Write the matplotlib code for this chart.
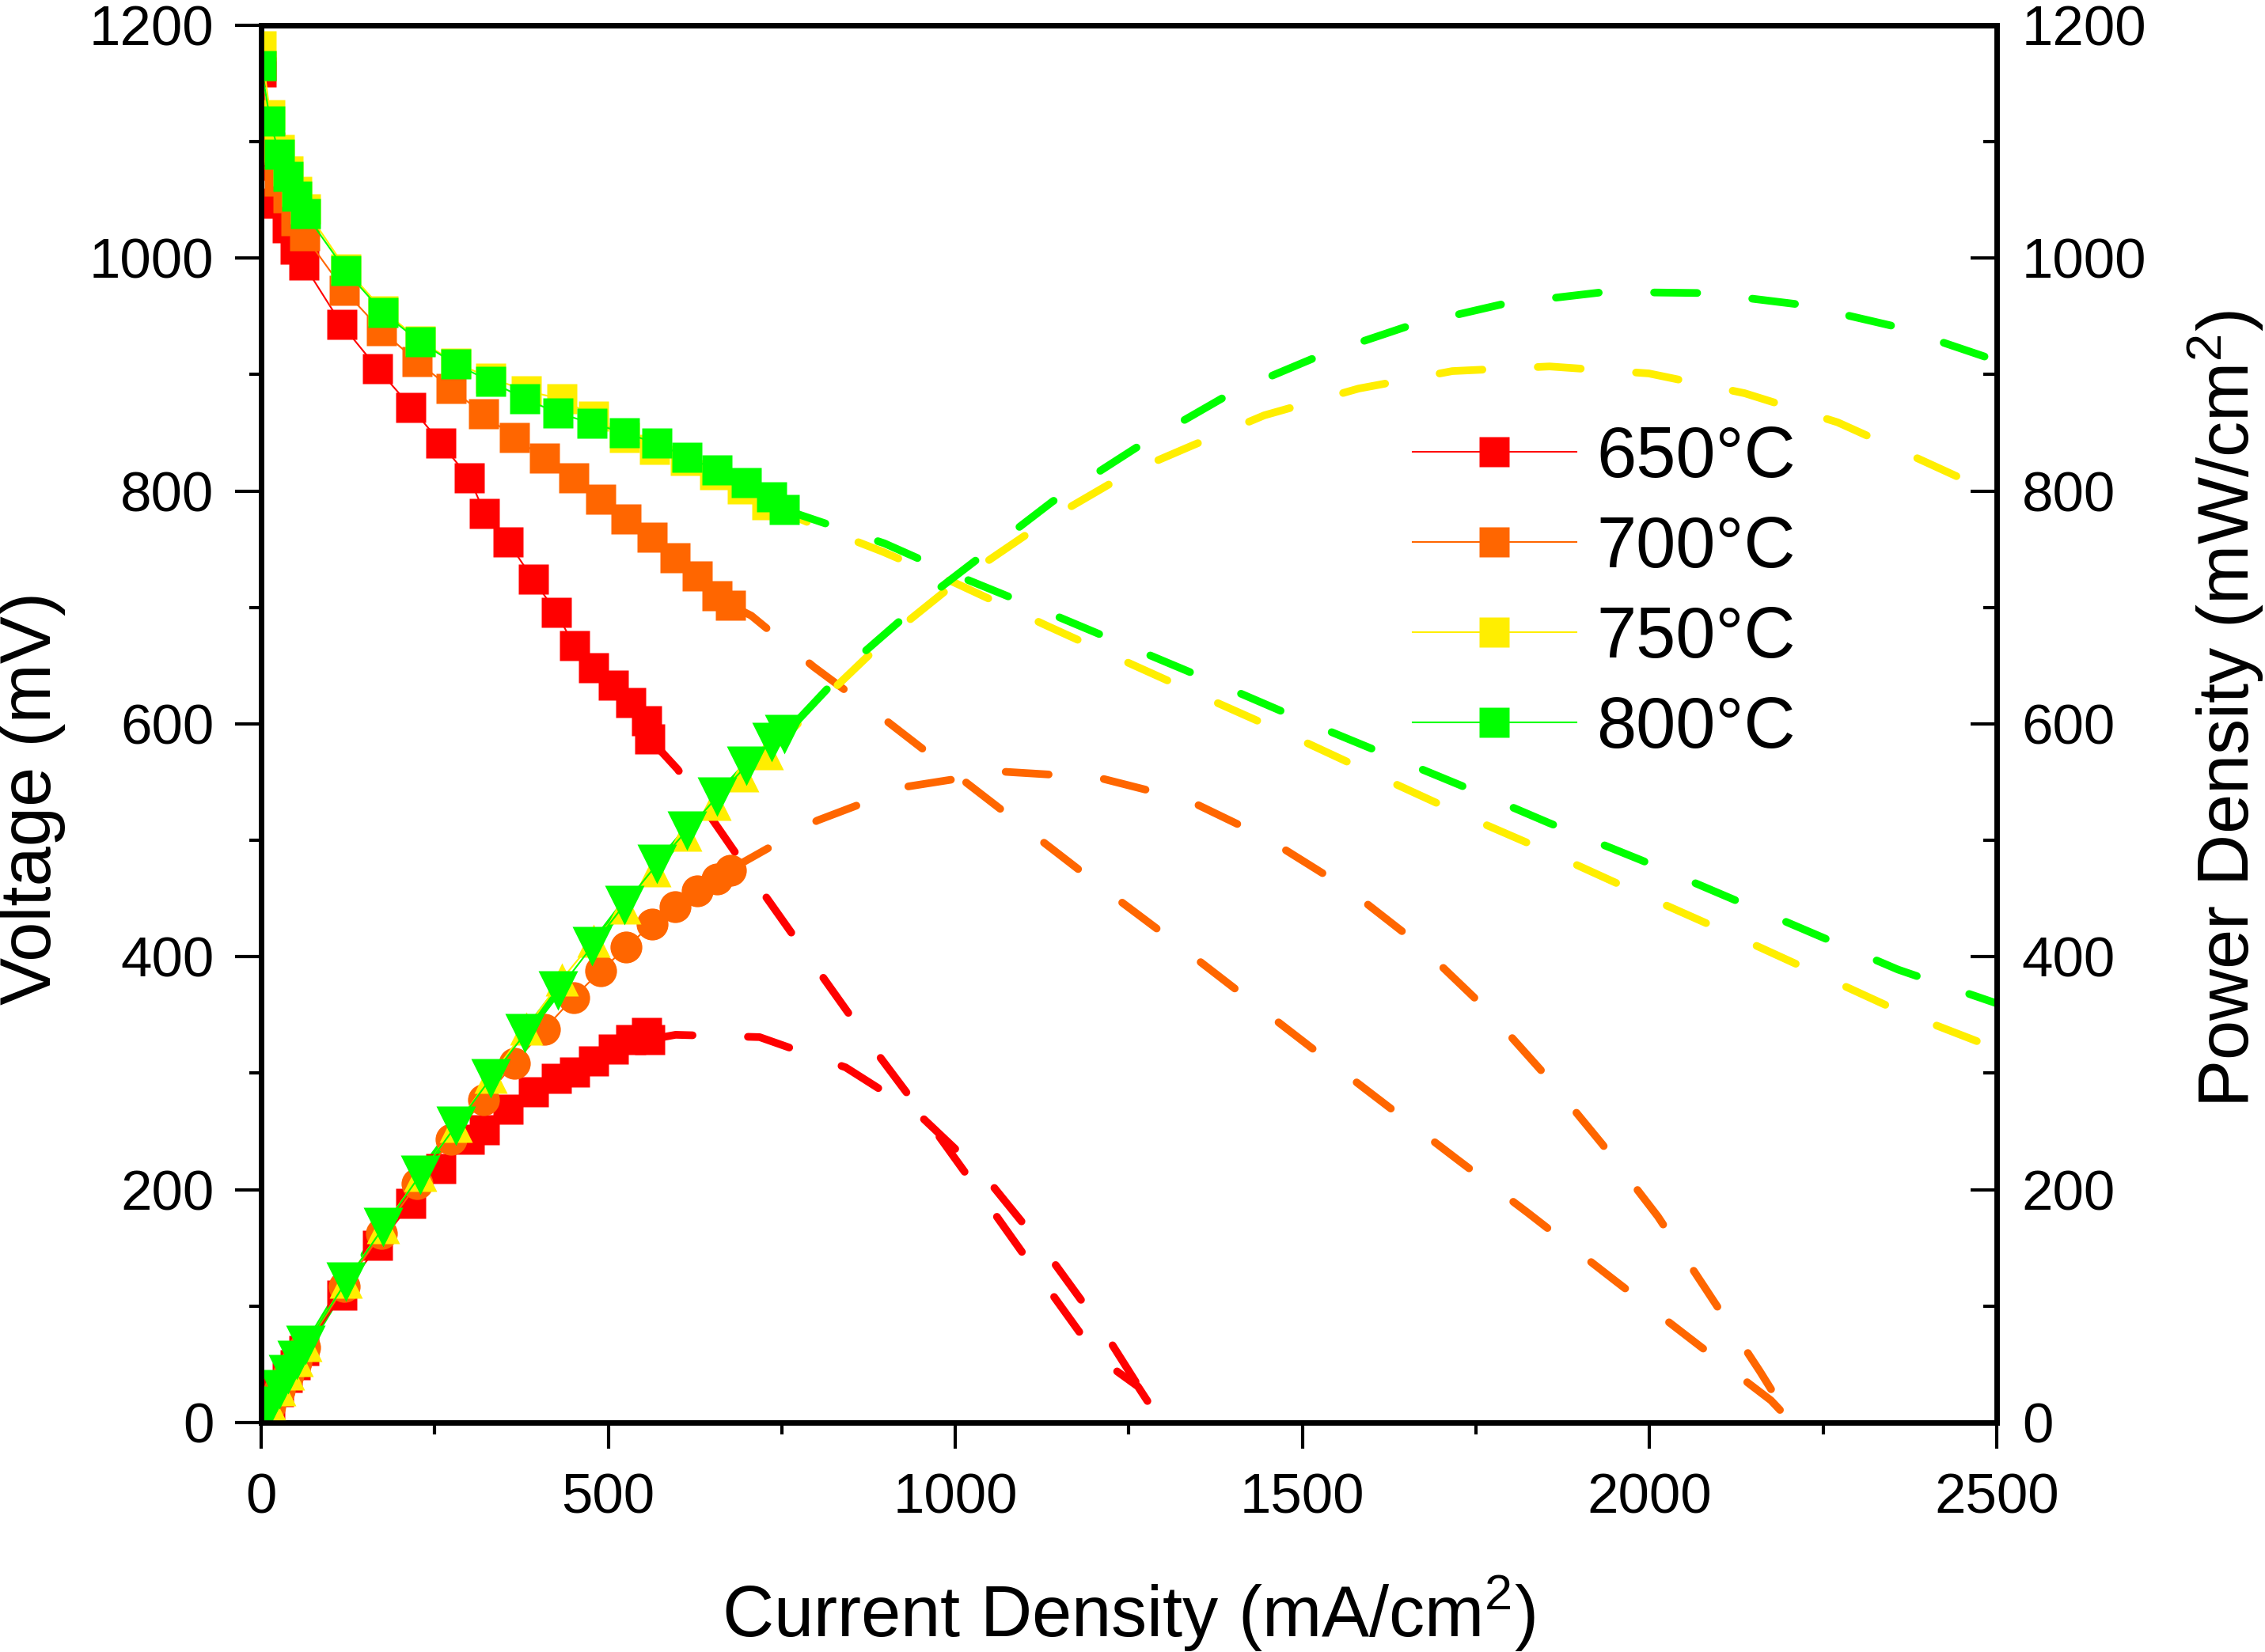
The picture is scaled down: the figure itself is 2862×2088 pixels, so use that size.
import matplotlib
matplotlib.use('Agg')
import matplotlib.pyplot as plt
from matplotlib.ticker import MultipleLocator
from matplotlib.lines import Line2D

plt.rcParams['font.family'] = ['Liberation Sans', 'DejaVu Sans']
plt.rcParams['mathtext.fontset'] = 'custom'
plt.rcParams['mathtext.rm'] = 'Liberation Sans'
plt.rcParams['mathtext.it'] = 'Liberation Sans:italic'
plt.rcParams['mathtext.bf'] = 'Liberation Sans:bold'
plt.rcParams['mathtext.default'] = 'regular'

# ---------------- data ----------------
temps = ['650°C', '700°C', '750°C', '800°C']
colors = ['#FF0000', '#FF6600', '#FFEE00', '#00FF00']

# measured points: current density (mA/cm2), voltage (mV), power density (mW/cm2)
J_650 = [0, 13, 25, 38, 49, 62, 116, 168, 216, 259, 300, 322, 356, 392, 425, 451, 479, 507, 532, 555, 560]
V_650 = [1160, 1080, 1047, 1026, 1008, 994, 943, 905, 872, 841, 811, 781, 756, 724, 696, 667, 648, 633, 618, 603, 587]
P_650 = [0, 14.0, 26.2, 39.0, 49.4, 61.6, 109.4, 152.0, 188.4, 217.8, 243.3, 251.5, 269.1, 283.8, 295.8, 300.8, 310.4, 320.9, 328.8, 334.7, 328.7]

J_700 = [0, 13, 26, 39, 50, 63, 120, 173, 225, 274, 320, 365, 408, 450, 489, 526, 563, 596, 628, 657, 676]
V_700 = [1165, 1095, 1066, 1052, 1032, 1019, 972, 938, 911, 888, 866, 846, 828, 811, 793, 776, 760, 743, 727, 710, 702]
P_700 = [0, 14.2, 27.7, 41.0, 51.6, 64.2, 116.6, 162.3, 205.0, 243.3, 277.1, 308.8, 337.8, 365.0, 387.8, 408.2, 427.9, 442.8, 456.6, 466.5, 474.6]

J_750 = [0, 13, 26, 39, 51, 64, 122, 176, 229, 280, 331, 382, 433, 479, 523, 567, 611, 653, 693, 729]
V_750 = [1182, 1123, 1093, 1075, 1057, 1042, 991, 955, 929, 910, 897, 886, 879, 864, 846, 836, 826, 814, 802, 788]
P_750 = [0, 14.6, 28.4, 41.9, 53.9, 66.7, 120.9, 168.1, 212.7, 254.8, 296.9, 338.5, 380.6, 413.9, 442.5, 474.0, 504.7, 531.5, 555.8, 574.5]

J_800 = [0, 13, 26, 39, 51, 64, 122, 176, 229, 280, 331, 380, 428, 477, 523, 570, 613, 657, 699, 735, 754]
V_800 = [1165, 1118, 1089, 1070, 1053, 1038, 989, 953, 928, 909, 894, 879, 867, 858, 850, 841, 829, 818, 807, 795, 784]
P_800 = [0, 14.5, 28.3, 41.7, 53.7, 66.4, 120.7, 167.7, 212.5, 254.5, 295.9, 334.0, 371.1, 409.3, 444.6, 479.4, 508.2, 537.4, 564.1, 584.3, 591.1]

# fitted (dashed) curves
FJv_650 = [560, 600, 723, 805, 885, 963, 1044, 1124, 1205, 1263, 1297]
FV_650 = [587, 561, 455, 386, 319, 257, 190, 123, 56, 31, 0]
FJp_650 = [560, 597, 718, 842, 945, 1046, 1129, 1212, 1297]
FP_650 = [329, 333, 331, 305, 266, 209, 148, 80, 0]

FJv_700 = [676, 706, 796, 900, 1004, 1106, 1208, 1313, 1415, 1517, 1620, 1723, 1825, 1950, 2074, 2175, 2205]
FV_700 = [702, 693, 649, 603, 555, 508, 461, 414, 367, 320, 273, 226, 180, 122, 65, 19, 0]
FJp_700 = [676, 801, 929, 1068, 1205, 1337, 1448, 1566, 1667, 1765, 1852, 1932, 2012, 2084, 2159, 2205]
FP_700 = [475, 517, 546, 559, 554, 534, 502, 458, 411, 355, 297, 239, 177, 112, 44, 0]

FJv_750 = [729, 800, 895, 1000, 1133, 1251, 1370, 1487, 1606, 1723, 1843, 1983, 2119, 2240, 2357, 2500]
FV_750 = [788, 770, 748, 721, 684, 652, 620, 589, 556, 524, 493, 455, 419, 386, 354, 321]
FJp_750 = [729, 800, 900, 1000, 1133, 1251, 1341, 1445, 1581, 1716, 1856, 1999, 2137, 2271, 2390, 2500]
FP_750 = [574, 616, 673, 721, 775, 816, 839, 865, 888, 903, 907, 901, 884, 859, 827, 797]

FJv_800 = [754, 898, 1000, 1140, 1260, 1380, 1497, 1615, 1737, 1855, 1988, 2122, 2240, 2358, 2500]
FV_800 = [784, 755, 728, 694, 664, 634, 604, 575, 545, 515, 483, 449, 419, 389, 360]
FJp_800 = [0, 122, 229, 331, 428, 523, 613, 699, 754, 850, 952, 1140, 1260, 1400, 1524, 1654, 1792, 1936, 2082, 2219, 2356, 2500]
FP_800 = [0, 121, 213, 296, 371, 445, 508, 564, 591, 652, 705, 791, 837, 885, 916, 942, 961, 971, 970, 960, 941, 912]

x_ticks = [0, 500, 1000, 1500, 2000, 2500]
y_ticks = [0, 200, 400, 600, 800, 1000, 1200]

series = [
    (J_650, V_650, P_650, FJv_650, FV_650, FJp_650, FP_650, 's', 27),
    (J_700, V_700, P_700, FJv_700, FV_700, FJp_700, FP_700, 'o', 29),
    (J_750, V_750, P_750, FJv_750, FV_750, FJp_750, FP_750, '^', 30),
    (J_800, V_800, P_800, FJv_800, FV_800, FJp_800, FP_800, 'v', 36),
]

# ---------------- figure ----------------
fig = plt.figure(figsize=(28.62, 20.88), dpi=100)
ax = fig.add_axes([0.1153, 0.1389, 0.7662, 0.8458])

dash_kw = dict(lw=7, dashes=(5.6, 7.2), dash_capstyle='round', zorder=2)
for i, (J, V, P, fjv, fv, fjp, fp, pm, pms) in enumerate(series):
    c = colors[i]
    ax.plot(fjv, fv, color=c, **dash_kw)
    ax.plot(fjp, fp, color=c, **dash_kw)

for i, (J, V, P, fjv, fv, fjp, fp, pm, pms) in enumerate(series):
    c = colors[i]
    ax.plot(J, V, color=c, lw=1.5, marker='s', ms=27, mec='none', mfc=c, zorder=3 + i)
    ax.plot(J, P, color=c, lw=1.5, marker=pm, ms=pms, mec='none', mfc=c, zorder=3 + i)

ax.set_xlim(0, 2500)
ax.set_ylim(0, 1200)
ax.set_xticks(x_ticks)
ax.set_yticks(y_ticks)
ax.xaxis.set_minor_locator(MultipleLocator(250))
ax.yaxis.set_minor_locator(MultipleLocator(100))

for s in ax.spines.values():
    s.set_linewidth(4.8)

ax.tick_params(axis='both', which='major', direction='out', length=24, width=3,
               labelsize=51, top=False, right=False)
ax.tick_params(axis='both', which='minor', direction='out', length=11, width=3,
               top=False, right=False)
ax.tick_params(axis='x', which='major', pad=22)
ax.tick_params(axis='y', which='major', pad=19)

ax2 = ax.twinx()
ax2.set_ylim(0, 1200)
ax2.set_yticks(y_ticks)
ax2.yaxis.set_minor_locator(MultipleLocator(100))
ax2.tick_params(axis='y', which='major', direction='in', length=24, width=3,
                labelsize=51, pad=23)
ax2.tick_params(axis='y', which='minor', direction='in', length=12, width=3)
for s in ax2.spines.values():
    s.set_linewidth(4.8)

ax.set_xlabel('Current Density (mA/cm$^2$)', fontsize=65)
ax.set_ylabel('Voltage (mV)', fontsize=65)
ax2.set_ylabel('Power Density (mW/cm$^2$)', fontsize=65)
ax.xaxis.label.set_va('center')
ax.yaxis.label.set_va('center')
ax2.yaxis.label.set_va('center')
ax.xaxis.set_label_coords(0.4996, -0.1365)
ax.yaxis.set_label_coords(-0.1322, 0.447)
ax2.yaxis.set_label_coords(1.1318, 0.5108)

handles = [Line2D([], [], color=c, lw=1.5, marker='s', ms=27, mec='none', mfc=c)
           for c in colors]
ax.legend(handles, temps, loc='upper left', bbox_to_anchor=(0.6635, 0.714),
          frameon=False, fontsize=65, handlelength=2.29, handletextpad=0.28,
          labelspacing=0.32, borderpad=0, borderaxespad=0)

fig.savefig('out.png', dpi=100)
